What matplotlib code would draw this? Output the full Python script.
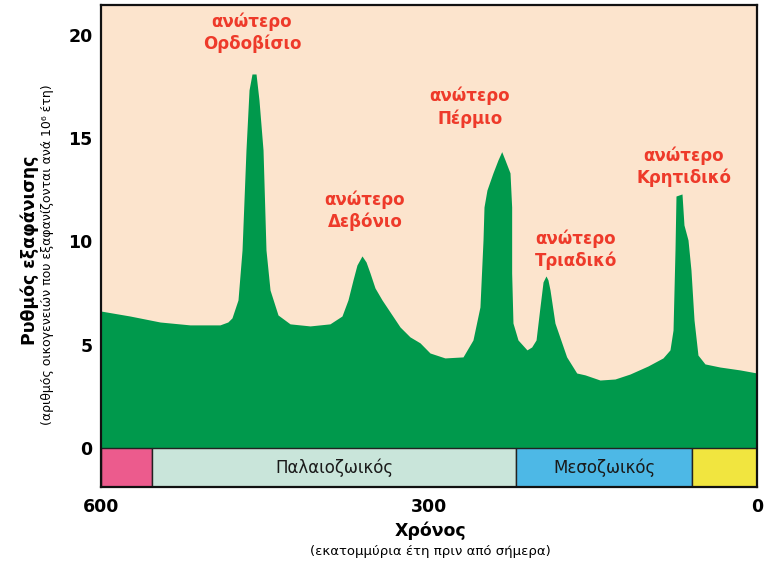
import matplotlib
matplotlib.use("Agg")
import matplotlib.pyplot as plt

# ---- data ----
time_ma = [600, 573.5, 546, 518.6, 491.2, 484, 480.2, 474.7, 471, 467.4, 464.6, 461.9, 458.2,
           455.5, 451.8, 449.1, 445.4, 438.1, 427.1, 408.8, 390.6, 379.6, 374.1, 369.5,
           365.9, 361.3, 357.6, 354, 349.4, 343, 335.7, 326.5, 317.4, 308.2, 299.1, 285.4,
           268.9, 259.8, 253.4, 250.6, 249.7, 247, 241.5, 236.9, 233.5, 230.5, 225.9,
           224.4, 224.4, 223.2, 218.6, 210.4, 206.1, 202.1, 198.5, 195.7, 193, 191.2,
           189.3, 184.8, 174.1, 164.9, 157.3, 143.6, 129.9, 116.2, 99.7, 86, 79.6, 76.8,
           75, 74.1, 68.6, 66.8, 63.1, 60.4, 57.6, 54, 47.6, 33.9, 15.6, 0]
rate = [6.63, 6.39, 6.10, 5.96, 5.96, 6.10, 6.30, 7.17, 9.59, 14.43, 17.34, 18.11, 18.11,
        16.85, 14.43, 9.59, 7.65, 6.44, 6.01, 5.91, 6.01, 6.39, 7.17, 8.14,
        8.86, 9.30, 9.01, 8.48, 7.75, 7.17, 6.59, 5.86, 5.38, 5.09, 4.60, 4.36,
        4.41, 5.23, 6.83, 10.07, 11.67, 12.49, 13.32, 13.95, 14.35, 13.95, 13.32,
        11.67, 8.48, 6.05, 5.23, 4.75, 4.89, 5.23, 6.83, 8.04, 8.33, 8.14,
        7.65, 6.05, 4.41, 3.63, 3.54, 3.29, 3.34, 3.58, 3.97, 4.36, 4.75, 5.71,
        9.59, 12.20, 12.30, 10.80, 10.07, 8.62, 6.20, 4.50, 4.07, 3.92, 3.78, 3.63]

event_names = ["Ορδοβίσιο", "Δεβόνιο", "Πέρμιο", "Τριαδικό", "Κρητιδικό"]
event_label_time = [461.9, 358.5, 262.5, 165.6, 66.8]
event_label_rate = [20.1, 11.5, 16.5, 9.6, 13.6]

era_start = [600, 553, 220, 59]
era_end = [553, 220, 59, 0]
era_names = ["", "Παλαιοζωικός", "Μεσοζωικός", ""]
era_colors = ["#EC5B8D", "#C9E5DA", "#4DB8E6", "#F1E53F"]

x_ticks = [600, 300, 0]
y_ticks = [0, 5, 10, 15, 20]

# ---- style ----
GREEN = "#00994C"
CREAM = "#FCE4CD"
RED = "#EE3A2A"
BAND_BOTTOM = -1.89
FONT = ["DejaVu Sans"]

W, H = 767, 564
fig = plt.figure(figsize=(W / 100, H / 100), dpi=100)
fig.patch.set_facecolor("white")
ax = fig.add_axes([101 / W, (H - 487) / H, 656 / W, 482 / H])
ax.set_facecolor(CREAM)
ax.set_xlim(600, 0)
ax.set_ylim(BAND_BOTTOM, 21.45)

ax.fill_between(time_ma, 0, rate, color=GREEN, linewidth=0, zorder=2)

for s, e, n, c in zip(era_start, era_end, era_names, era_colors):
    ax.bar(s, -BAND_BOTTOM, width=e - s, bottom=BAND_BOTTOM, align="edge",
           color=c, edgecolor="#222222", linewidth=1.0, zorder=3)
    if n:
        ax.text((s + e) / 2, BAND_BOTTOM / 2, n, ha="center", va="center",
                fontsize=12, color="#1a1a1a", family=FONT, zorder=4)

for name, tx, ty in zip(event_names, event_label_time, event_label_rate):
    ax.text(tx, ty, "ανώτερο\n" + name, ha="center", va="center", color=RED,
            fontsize=12, fontweight="bold", family=FONT, linespacing=1.25, zorder=5)

ax.set_xticks(x_ticks)
ax.set_xticklabels([str(v) for v in x_ticks])
ax.set_yticks(y_ticks)
ax.set_yticklabels([str(v) for v in y_ticks])
ax.tick_params(axis="both", length=0, labelsize=12.5)
ax.tick_params(axis="x", pad=8)
ax.tick_params(axis="y", pad=6)
for lab in ax.get_xticklabels() + ax.get_yticklabels():
    lab.set_fontweight("bold")
    lab.set_family(FONT)
for sp in ax.spines.values():
    sp.set_linewidth(1.6)
    sp.set_color("#111111")
    sp.set_zorder(6)

fig.text(30 / W, 1 - 250 / H, "Ρυθμός εξαφάνισης", rotation=90, ha="center",
         va="center", fontsize=12.5, fontweight="bold", family=FONT)
fig.text(48 / W, 1 - 255 / H, "(αριθμός οικογενειών που εξαφανίζονται ανά 10⁶ έτη)",
         rotation=90, ha="center", va="center", fontsize=9, family=FONT)
fig.text(430 / W, 1 - 531 / H, "Χρόνος", ha="center", va="center",
         fontsize=12.5, fontweight="bold", family=FONT)
fig.text(430 / W, 1 - 552 / H, "(εκατομμύρια έτη πριν από σήμερα)", ha="center",
         va="center", fontsize=9.5, family=FONT)

fig.savefig("out.png", dpi=100, facecolor="white")
